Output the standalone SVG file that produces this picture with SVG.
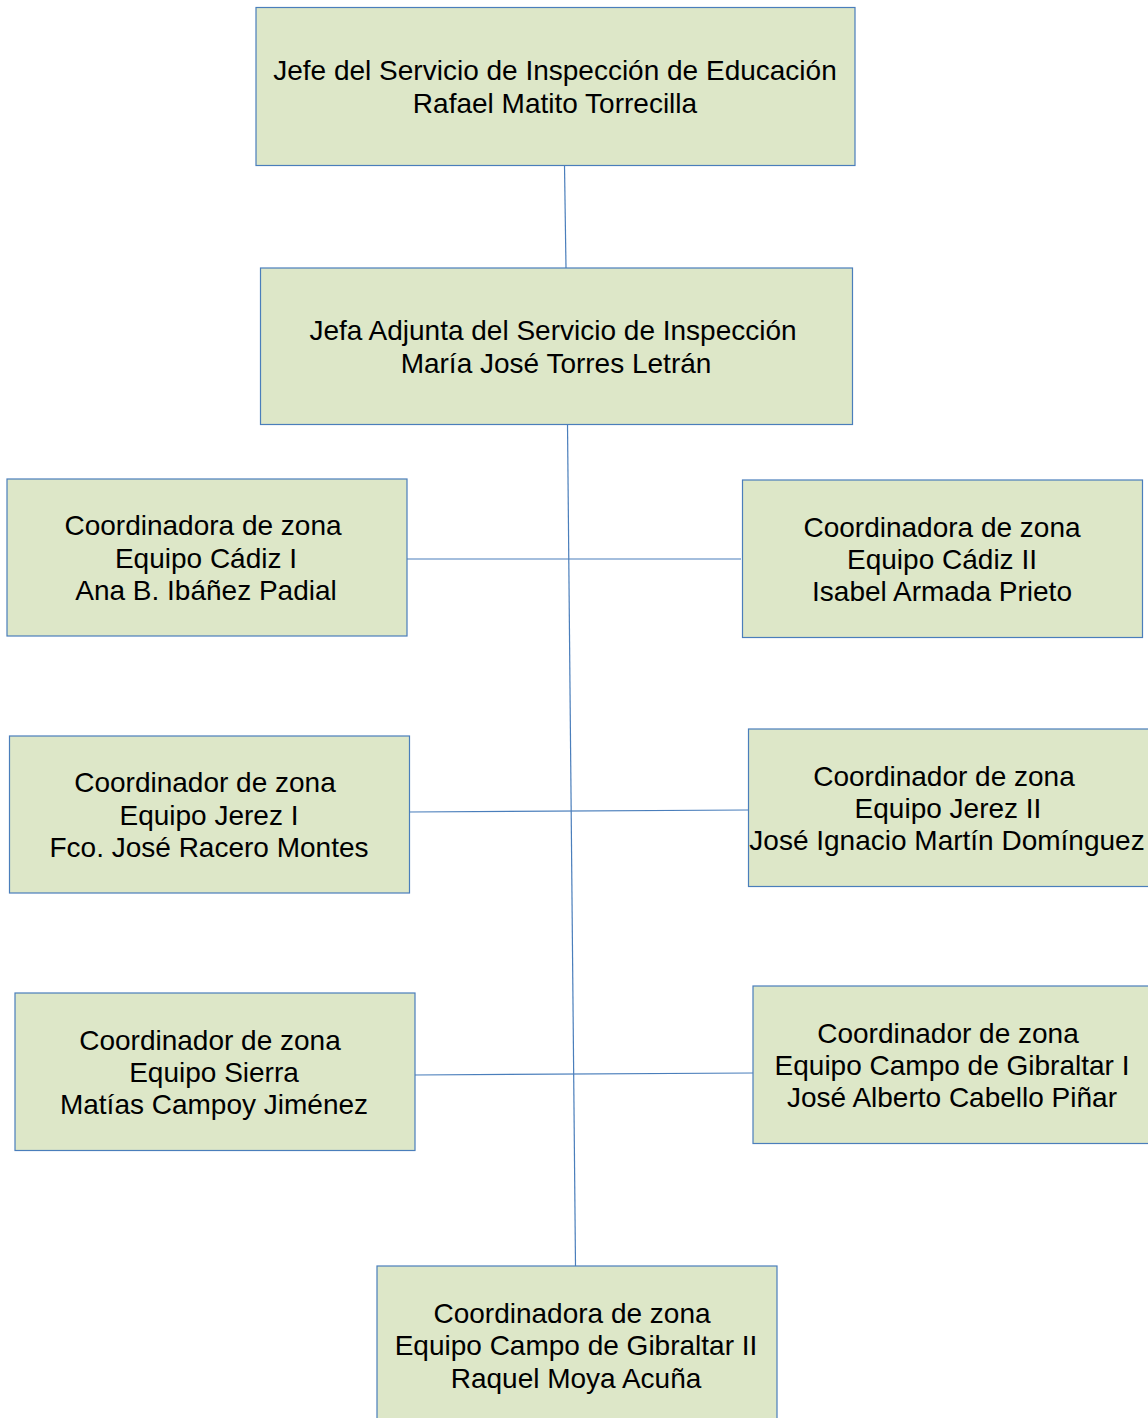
<svg xmlns="http://www.w3.org/2000/svg" width="1148" height="1418" viewBox="0 0 1148 1418">
<style>
.box{fill:#dde7c8;stroke:#4a7ebb;stroke-width:1.2}
.t{font-family:"Liberation Sans",Arial,sans-serif;font-size:28px;fill:#000;text-anchor:middle}
.c{stroke:#4a7ebb;stroke-width:1.2;fill:none}
</style>
<rect width="1148" height="1418" fill="#fff"/>
<g id="connectors">
<line class="c" x1="564.5" y1="165" x2="566" y2="268"/>
<line class="c" x1="567.5" y1="424" x2="575.5" y2="1266"/>
<line class="c" x1="407" y1="559" x2="741" y2="559"/>
<line class="c" x1="409" y1="812" x2="748" y2="810"/>
<line class="c" x1="414" y1="1075" x2="753" y2="1073"/>
</g>
<g id="jefe">
<rect class="box" x="256" y="7.5" width="599" height="158"/>
<text class="t" x="555" y="80">Jefe del Servicio de Inspección de Educación</text>
<text class="t" x="555" y="113">Rafael Matito Torrecilla</text>
</g>
<g id="jefa-adjunta">
<rect class="box" x="260.5" y="268" width="592" height="156.5"/>
<text class="t" x="553" y="340">Jefa Adjunta del Servicio de Inspección</text>
<text class="t" x="556" y="373">María José Torres Letrán</text>
</g>
<g id="cadiz1">
<rect class="box" x="7" y="479" width="400" height="157"/>
<text class="t" x="203" y="535">Coordinadora de zona</text>
<text class="t" x="206" y="568">Equipo Cádiz I</text>
<text class="t" x="206" y="600">Ana B. Ibáñez Padial</text>
</g>
<g id="cadiz2">
<rect class="box" x="742.5" y="480" width="400" height="157.5"/>
<text class="t" x="942" y="537">Coordinadora de zona</text>
<text class="t" x="942" y="569">Equipo Cádiz II</text>
<text class="t" x="942" y="601">Isabel Armada Prieto</text>
</g>
<g id="jerez1">
<rect class="box" x="9.5" y="736" width="400" height="157"/>
<text class="t" x="205" y="792">Coordinador de zona</text>
<text class="t" x="209" y="825">Equipo Jerez I</text>
<text class="t" x="209" y="857">Fco. José Racero Montes</text>
</g>
<g id="jerez2">
<rect class="box" x="748.5" y="729" width="404" height="157.5"/>
<text class="t" x="944" y="786">Coordinador de zona</text>
<text class="t" x="948" y="818">Equipo Jerez II</text>
<text class="t" x="947" y="850">José Ignacio Martín Domínguez</text>
</g>
<g id="sierra">
<rect class="box" x="15" y="993" width="400" height="157.5"/>
<text class="t" x="210" y="1050">Coordinador de zona</text>
<text class="t" x="214" y="1082">Equipo Sierra</text>
<text class="t" x="214" y="1114">Matías Campoy Jiménez</text>
</g>
<g id="campo1">
<rect class="box" x="753" y="986" width="400" height="157.5"/>
<text class="t" x="948" y="1043">Coordinador de zona</text>
<text class="t" x="952" y="1075">Equipo Campo de Gibraltar I</text>
<text class="t" x="952" y="1107">José Alberto Cabello Piñar</text>
</g>
<g id="campo2">
<rect class="box" x="377" y="1266" width="400" height="160"/>
<text class="t" x="572" y="1323">Coordinadora de zona</text>
<text class="t" x="576" y="1355">Equipo Campo de Gibraltar II</text>
<text class="t" x="576" y="1388">Raquel Moya Acuña</text>
</g>
</svg>
